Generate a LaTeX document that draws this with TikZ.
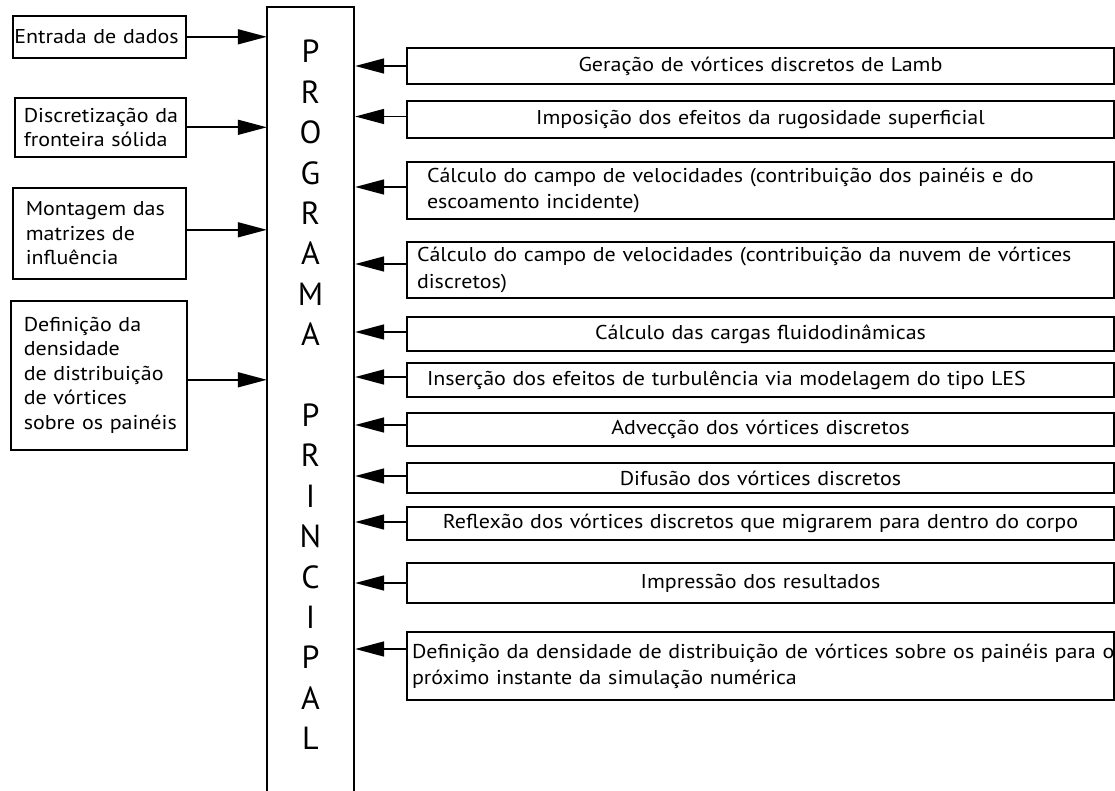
\documentclass[tikz,border=0pt]{standalone}
\usepackage{fontspec}
\setmainfont[FakeStretch=1.1]{PT Sans}
\newfontfamily\titlefont{PT Sans}
\usetikzlibrary{arrows.meta}
\begin{document}
\begin{tikzpicture}[x=1pt,y=-1pt,
  box/.style={draw, line width=1.6pt, inner ysep=0pt, align=left},
  lbox/.style={box, anchor=north west, font=\fontsize{20}{24.5}\selectfont},
  rbox/.style={box, minimum width=707pt, text width=699pt, inner xsep=4pt, align=center, font=\fontsize{20}{26}\selectfont},
  arr/.style={line width=1.6pt, -{Triangle[length=29pt,width=15pt]}},
  mainline/.style={line width=1.6pt},
]
\fill[white] (0,0) rectangle (1115,791);
\useasboundingbox (0,0) rectangle (1115,791);

% main program box
\node[minimum width=87pt, minimum height=784pt, inner sep=0pt] (main) at (310.5,399) {};
\draw[mainline] (main.south west) -- (main.north west) -- (main.north east) -- (main.south east);
\node[font=\titlefont\fontsize{32}{40.4}\selectfont, align=center, inner sep=0pt] (title) at (310.5,395)
  {P\\R\\O\\G\\R\\A\\M\\A\\[40.4pt]P\\R\\I\\N\\C\\I\\P\\A\\L};

% left boxes
\node[lbox, inner xsep=1.5pt, text width=170pt, minimum height=42pt] (l1) at (12,15) {\mbox{Entrada de dados}};
\node[lbox, inner xsep=9pt, text width=153pt, minimum height=59pt] (l2) at (14,97) {\mbox{Discretização da}\\\mbox{fronteira sólida}};
\node[lbox, inner xsep=13pt, text width=147pt, minimum height=91pt] (l3) at (12,187) {\mbox{Montagem das}\\\mbox{matrizes de}\\\mbox{influência}};
\node[lbox, inner xsep=13pt, text width=150pt, minimum height=149pt] (l4) at (10,300) {\mbox{Definição da}\\\mbox{densidade}\\\mbox{de distribuição}\\\mbox{de vórtices}\\\mbox{sobre os painéis}};

% right boxes
\node[rbox, minimum height=36pt] (r1) at (760.5,66) {Geração de vórtices discretos de Lamb\hspace*{57pt}};
\node[rbox, minimum height=37pt] (r2) at (760.5,119.5) {Imposição dos efeitos da rugosidade superficial\hspace*{35pt}};
\node[rbox, align=left, inner xsep=20pt, text width=667pt, minimum height=57pt] (r3) at (760.5,190.5) {\mbox{Cálculo do campo de velocidades (contribuição dos painéis e do}\\\mbox{escoamento incidente)}};
\node[rbox, align=left, inner xsep=10pt, text width=687pt, minimum height=56pt] (r4) at (760.5,270) {\mbox{Cálculo do campo de velocidades (contribuição da nuvem de vórtices}\\\mbox{discretos)}};
\node[rbox, minimum height=34pt] (r5) at (760.5,334) {Cálculo das cargas fluidodinâmicas\hspace*{41pt}};
\node[rbox, align=left, inner xsep=20pt, text width=667pt, minimum height=34pt] (r6) at (760.5,380) {\mbox{Inserção dos efeitos de turbulência via modelagem do tipo LES}};
\node[rbox, minimum height=33pt] (r7) at (760.5,429.5) {Advecção dos vórtices discretos\hspace*{25pt}};
\node[rbox, minimum height=30pt] (r8) at (760.5,478) {Difusão dos vórtices discretos\hspace*{44pt}};
\node[rbox, minimum height=33pt] (r9) at (760.5,523.5) {Reflexão dos vórtices discretos que migrarem para dentro do corpo\hspace*{21pt}};
\node[rbox, minimum height=40pt] (r10) at (760.5,583) {Impressão dos resultados\hspace*{7pt}};
\node[rbox, align=left, inner xsep=5pt, text width=697pt, minimum height=68pt] (r11) at (760.5,666) {\mbox{Definição da densidade de distribuição de vórtices sobre os painéis para o}\\\mbox{próximo instante da simulação numérica}};

% left arrows
\coordinate (a1) at (l1.east);
\coordinate (a2) at (l2.east);
\coordinate (a3) at ([yshift=3.5pt]l3.east);
\coordinate (a4) at ([yshift=-4.5pt]l4.east);
\foreach \c in {a1,a2,a3,a4} \draw[arr] (\c) -- (\c -| main.west);

% right arrows
\coordinate (b1) at (r1.west);
\coordinate (b2) at ([yshift=3pt]r2.west);
\coordinate (b3) at ([yshift=3.5pt]r3.west);
\coordinate (b4) at ([yshift=6pt]r4.west);
\coordinate (b5) at ([yshift=2pt]r5.west);
\coordinate (b6) at ([yshift=3pt]r6.west);
\coordinate (b7) at ([yshift=4.5pt]r7.west);
\coordinate (b8) at ([yshift=2pt]r8.west);
\coordinate (b9) at ([yshift=1.5pt]r9.west);
\coordinate (b10) at (r10.west);
\coordinate (b11) at ([yshift=17pt]r11.west);
\foreach \c in {b1,b2,b3,b4,b5,b6,b7,b8,b9,b10,b11} \draw[arr] (\c) -- ([xshift=1pt]\c -| main.east);
\end{tikzpicture}
\end{document}
